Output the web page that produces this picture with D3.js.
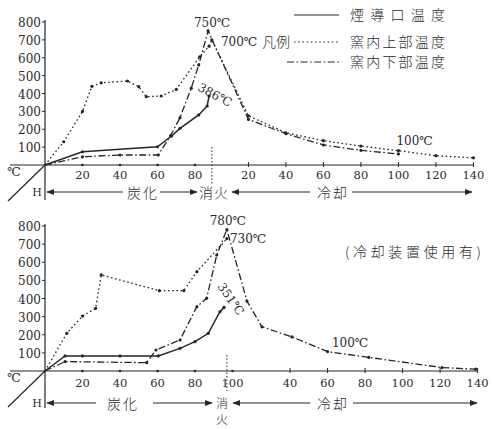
<!DOCTYPE html>
<html>
<head>
<meta charset="utf-8">
<script src="https://cdn.jsdelivr.net/npm/d3@7"></script>
<style>
  body { margin: 0; background: #fff; }
  text { fill: #2b2b2b; }
  .num { font-family: "DejaVu Serif", "Liberation Serif", serif; }
  .jp { font-family: "Noto Sans CJK JP", "Noto Sans CJK SC", sans-serif; font-weight: 300; }
</style>
</head>
<body>
<div id="chart"></div>
<script>
// 目盛
const yTicks = [100, 200, 300, 400, 500, 600, 700, 800];
const topCarbTicks = [20, 40, 60, 80];
const topCoolTicks = [20, 40, 60, 80, 100, 120, 140];
const botCarbTicks = [20, 40, 60, 80, 100];
const botCoolTicks = [40, 60, 80, 100, 120, 140];

// 上図 (時間 h, 温度 ℃) 炭化中は着火からの時間, 冷却中は冷却開始からの時間
const topFlueH = [0, 20, 60, 67.5, 72, 82, 86.5, 87.5];
const topFlueT = [0, 74, 102, 162, 205, 280, 330, 386];
const topUpperH = [0, 10, 20, 25, 30, 44, 50, 54, 62, 70, 82.5, 87.5, 89];
const topUpperT = [0, 130, 300, 440, 460, 470, 438, 382, 386, 423, 605, 665, 700];
const topUpperCoolH = [20, 40, 60, 80, 100, 120, 140];
const topUpperCoolT = [275, 180, 136, 106, 80, 52, 40];
const topLowerH = [0, 20, 40, 60.4, 67, 72, 78, 82, 87];
const topLowerT = [0, 46, 56, 56, 165, 265, 430, 560, 750];
const topLowerCoolH = [20, 40, 60, 80, 100];
const topLowerCoolT = [255, 175, 112, 82, 62];

// 下図 (冷却装置使用有)
const botFlueH = [0, 10.7, 20, 40, 60.4, 72, 80, 87.1, 93.3, 95.5];
const botFlueT = [0, 83, 83, 83, 83, 125, 162, 208, 327, 351];
const botUpperH = [0, 11.6, 20, 27, 30, 61, 74, 81, 97];
const botUpperT = [0, 208, 303, 346, 530, 443, 443, 548, 730];
const botLowerH = [0, 10.7, 54.2, 59.2, 72, 81, 86.2, 91.6, 97];
const botLowerT = [0, 52, 46, 116, 171, 355, 401, 640, 780];
const botLowerCoolH = [17, 25, 41, 60, 82, 121, 139];
const botLowerCoolT = [386, 244, 188, 107, 75, 19, 10];

const legendNames = ["煙導口温度", "窯内上部温度", "窯内下部温度"];

const W = 492, H = 429;
const ink = "#262626";
const dash = { flue: null, upper: "1.6,2.6", lower: "7,2.5,1.6,2.5" };

const svg = d3.select("#chart").append("svg")
    .attr("width", W)
    .attr("height", H);

svg.append("defs").append("marker")
    .attr("id", "ah")
    .attr("viewBox", "0 0 10 10")
    .attr("refX", 9).attr("refY", 5)
    .attr("markerWidth", 7).attr("markerHeight", 7)
    .attr("orient", "auto-start-reverse")
    .append("path")
    .attr("d", "M0,1 L10,5 L0,9 z")
    .attr("fill", ink);

// 横軸は両図とも同じ (1h = 1.875px)
const x = d3.scaleLinear().domain([0, 240]).range([45, 495]);

function pts(hs, ts, off) {
    return hs.map((h, i) => [h + (off || 0), ts[i]]);
}

function drawPanel(p) {
    const y = d3.scaleLinear().domain([0, 800]).range([p.y0, p.y800]);
    const g = svg.append("g");
    const y0 = p.y0;

    // 軸
    g.append("line").attr("x1", 10).attr("x2", p.axisEnd).attr("y1", y0).attr("y2", y0)
        .attr("stroke", ink).attr("stroke-width", 1.2);
    g.append("line").attr("x1", x(0)).attr("x2", x(0)).attr("y1", p.y800 - 2).attr("y2", p.yAxisBottom)
        .attr("stroke", ink).attr("stroke-width", 1.2);
    g.append("line").attr("x1", 8).attr("y1", y0 + 36).attr("x2", x(0)).attr("y2", y0)
        .attr("stroke", ink).attr("stroke-width", 1.2);

    // 縦軸目盛
    g.selectAll(".yt").data(yTicks).enter().append("line")
        .attr("x1", x(0) - 3).attr("x2", x(0)).attr("y1", d => y(d)).attr("y2", d => y(d))
        .attr("stroke", ink);
    g.selectAll(".yl").data(yTicks).enter().append("text")
        .attr("class", "num")
        .attr("x", x(0) - 4).attr("y", d => y(d) + 5)
        .attr("text-anchor", "end").attr("font-size", 12)
        .text(d => d);

    g.append("text").attr("class", "num").attr("x", 14).attr("y", y0 + 11)
        .attr("font-size", 12).attr("text-anchor", "middle").text("℃");
    g.append("text").attr("class", "num").attr("x", 37).attr("y", p.rowY + 4)
        .attr("font-size", 11).attr("text-anchor", "middle").text("H");

    // 炭化の目盛
    g.selectAll(".ct").data(p.carbTicks).enter().append("circle")
        .attr("cx", d => x(d)).attr("cy", y0).attr("r", 1.3).attr("fill", ink);
    g.selectAll(".cl").data(p.carbTicks).enter().append("text")
        .attr("class", "num").attr("x", d => x(d)).attr("y", p.tickY)
        .attr("text-anchor", "middle").attr("font-size", 11.5)
        .text(d => d);

    // 冷却の目盛
    g.selectAll(".kt").data(p.coolTicks).enter().append("line")
        .attr("x1", d => x(p.coolStart + d)).attr("x2", d => x(p.coolStart + d))
        .attr("y1", y0 - 3).attr("y2", y0 + 2)
        .attr("stroke", ink);
    g.selectAll(".kl").data(p.coolTicks).enter().append("text")
        .attr("class", "num").attr("x", d => x(p.coolStart + d)).attr("y", p.tickY)
        .attr("text-anchor", "middle").attr("font-size", 11.5)
        .text(d => d);

    // 消火の点線
    g.append("line").attr("x1", x(p.extH)).attr("x2", x(p.extH))
        .attr("y1", p.extTop).attr("y2", y0 + 20)
        .attr("stroke", ink).attr("stroke-dasharray", "1.5,2");

    // 曲線
    const line = d3.line().x(d => x(d[0])).y(d => y(d[1]));
    p.series.forEach(s => {
        g.append("path").datum(s.pts)
            .attr("d", line)
            .attr("fill", "none")
            .attr("stroke", ink)
            .attr("stroke-width", s.kind === "flue" ? 1.5 : 1.3)
            .attr("stroke-dasharray", dash[s.kind]);
        g.selectAll(null).data(s.pts.slice(1)).enter().append("circle")
            .attr("cx", d => x(d[0])).attr("cy", d => y(d[1]))
            .attr("r", 1.6).attr("fill", ink);
    });

    // 注記
    p.notes.forEach(n => {
        const t = g.append("text")
            .attr("class", n.jp ? "jp" : "num")
            .attr("font-size", n.size || 12)
            .attr("text-anchor", n.anchor || "start")
            .attr("transform", "translate(" + (x(n.h) + n.dx) + "," + (y(n.t) + n.dy) + ") rotate(" + (n.rot || 0) + ")")
            .text(n.text);
        if (n.len) t.attr("textLength", n.len).attr("lengthAdjust", "spacing");
    });

    // 工程の矢印
    const ry = p.rowY;
    p.arrows.forEach(a => {
        g.append("line").attr("x1", a[0]).attr("x2", a[1]).attr("y1", ry).attr("y2", ry)
            .attr("stroke", ink).attr("stroke-width", 1.1)
            .attr("marker-end", "url(#ah)");
    });
    p.words.forEach(w => {
        const t = g.append("text").attr("class", "jp")
            .attr("x", w[1]).attr("y", (w[2] || ry) + 6)
            .attr("font-size", w[4] || 14)
            .attr("text-anchor", "middle")
            .attr("letter-spacing", w[3] || 0);
        if (w[5]) {
            // 縦書き (消/火)
            w[0].split("").forEach((c, i) => {
                t.append("tspan").attr("x", w[1]).attr("dy", i ? 16 : 0).text(c);
            });
        } else {
            t.text(w[0]);
        }
    });
    return y;
}

// 上図
drawPanel({
    y0: 165, y800: 22, yAxisBottom: 200, axisEnd: 474,
    coolStart: 88.5, extH: 89, extTop: 147,
    tickY: 179, rowY: 192,
    carbTicks: topCarbTicks, coolTicks: topCoolTicks,
    series: [
        { kind: "flue", pts: pts(topFlueH, topFlueT) },
        { kind: "upper", pts: pts(topUpperH, topUpperT).concat(pts(topUpperCoolH, topUpperCoolT, 88.5)) },
        { kind: "lower", pts: pts(topLowerH, topLowerT).concat(pts(topLowerCoolH, topLowerCoolT, 88.5)) }
    ],
    notes: [
        { text: "750℃", h: 87, t: 750, dx: 4, dy: -4, anchor: "middle" },
        { text: "700℃", h: 89, t: 700, dx: 9, dy: 6 },
        { text: "386℃", h: 87.5, t: 386, dx: -12, dy: -6, rot: 28 },
        { text: "100℃", h: 188.5, t: 100, dx: -2, dy: -2 }
    ],
    arrows: [[123, 47], [160, 197], [310, 232], [352, 472]],
    words: [["炭化", 143, null, 2], ["消火", 214, null, 1], ["冷却", 333, null, 2]]
});

// 下図
drawPanel({
    y0: 371, y800: 226, yAxisBottom: 408, axisEnd: 477,
    coolStart: 90.7, extH: 97, extTop: 355,
    tickY: 387, rowY: 403,
    carbTicks: botCarbTicks, coolTicks: botCoolTicks,
    series: [
        { kind: "flue", pts: pts(botFlueH, botFlueT) },
        { kind: "upper", pts: pts(botUpperH, botUpperT) },
        { kind: "lower", pts: pts(botLowerH, botLowerT).concat(pts(botLowerCoolH, botLowerCoolT, 90.7)) }
    ],
    notes: [
        { text: "780℃", h: 97, t: 780, dx: 1, dy: -5, anchor: "middle" },
        { text: "730℃", h: 97, t: 730, dx: 3, dy: 4 },
        { text: "351℃", h: 95.5, t: 351, dx: -7, dy: -21, rot: 55 },
        { text: "100℃", h: 153, t: 100, dx: 0, dy: -6 },
        { text: "(冷却装置使用有)", h: 160, t: 630, dx: 0, dy: 0, jp: true, size: 14, len: 136 }
    ],
    arrows: [[96, 47], [153, 212], [310, 233], [353, 477]],
    words: [["炭化", 123, null, 2], ["消火", 222, 402, 0, 12, true], ["冷却", 333, null, 2]]
});

// 凡例
const legendY = [15, 42, 62];
const legendKinds = ["flue", "upper", "lower"];
const lg = svg.append("g");
legendNames.forEach((name, i) => {
    lg.append("line")
        .attr("x1", i === 2 ? 287 : 294).attr("x2", 339)
        .attr("y1", legendY[i]).attr("y2", legendY[i])
        .attr("stroke", ink).attr("stroke-width", 1.2)
        .attr("stroke-dasharray", dash[legendKinds[i]]);
    lg.append("text").attr("class", "jp")
        .attr("x", 350).attr("y", legendY[i] + 5)
        .attr("font-size", 14)
        .attr("textLength", 95).attr("lengthAdjust", "spacing")
        .text(name);
});
lg.append("text").attr("class", "jp")
    .attr("x", 262).attr("y", legendY[1] + 5)
    .attr("font-size", 14)
    .text("凡例");
</script>
</body>
</html>
